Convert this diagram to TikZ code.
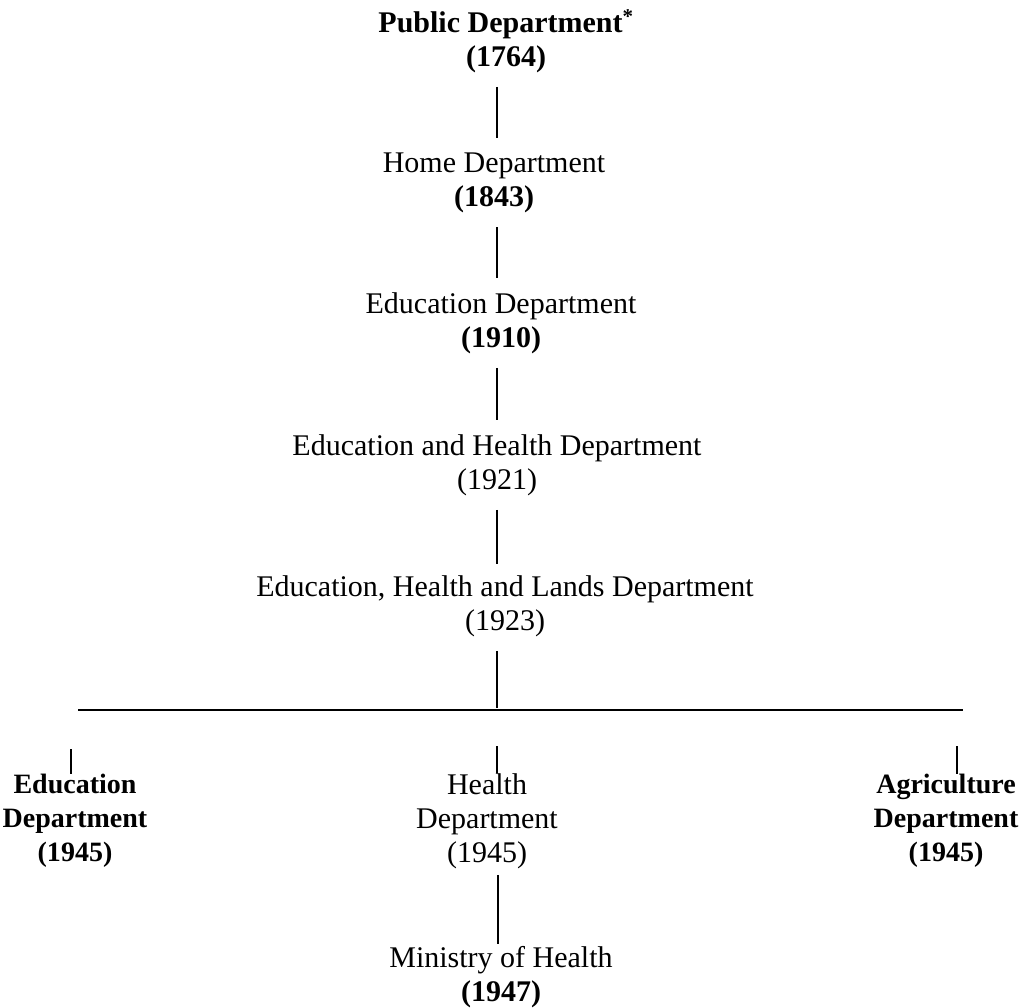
\documentclass[tikz,border=0pt]{standalone}
\usepackage{fontspec}
\setmainfont{Liberation Serif}
\begin{document}
\begin{tikzpicture}[x=1pt,y=-1pt,
  every node/.style={inner sep=0pt, align=center, font=\fontsize{30}{34}\selectfont},
  small/.style={font=\fontsize{28}{34}\selectfont},
  conn/.style={line width=2pt, black},
  bar/.style={line width=2.6pt, black}]
\useasboundingbox (0,0) rectangle (1032,1007);
\coordinate (spine) at (497,0);
% nodes
\node (pub) at (506,41) {\textbf{Public Department}\textsuperscript{\textbf{*}}\\\textbf{(1764)}};
\node (home) at (494,183) {Home Department\\\textbf{(1843)}};
\node (edu1) at (501,323) {Education Department\\\textbf{(1910)}};
\node (eh) at (497,465) {Education and Health Department\\(1921)};
\node (ehl) at (505,606) {Education, Health and Lands Department\\(1923)};
\node[small] (edu2) at (75,821) {\textbf{Education}\\\textbf{Department}\\\textbf{(1945)}};
\node (hd) at (487,821) {Health\\Department\\(1945)};
\node[small] (ag) at (946,821) {\textbf{Agriculture}\\\textbf{Department}\\\textbf{(1945)}};
\node (min) at (501,977) {Ministry of Health\\\textbf{(1947)}};
% bar coordinates
\coordinate (bar) at (497,708);
\coordinate (barL) at (78,710);
\coordinate (barR) at (963,710);
% connectors
\draw[conn] (pub.south -| spine) ++(0,14) -- ([yshift=15pt]home.north -| spine);
\draw[conn] (home.south -| spine) ++(0,14) -- ([yshift=14pt]edu1.north -| spine);
\draw[conn] (edu1.south -| spine) ++(0,14) -- ([yshift=14pt]eh.north -| spine);
\draw[conn] (eh.south -| spine) ++(0,14) -- ([yshift=11pt]ehl.north -| spine);
\draw[conn] (ehl.south -| spine) ++(0,14) -- (bar);
\draw[bar] (barL) -- (barR);
\draw[conn] (edu2.north -| 71,0) ++(0,-25) -- (edu2.north -| 71,0);
\draw[conn] (hd.north -| 497,0) ++(0,-27) -- (hd.north -| 497,0);
\draw[conn] (ag.north -| 957,0) ++(0,-28) -- (ag.north -| 957,0);
\draw[conn] ([yshift=-6pt]hd.south -| 498,0) -- ([yshift=2pt]min.north -| 498,0);
\end{tikzpicture}
\end{document}
